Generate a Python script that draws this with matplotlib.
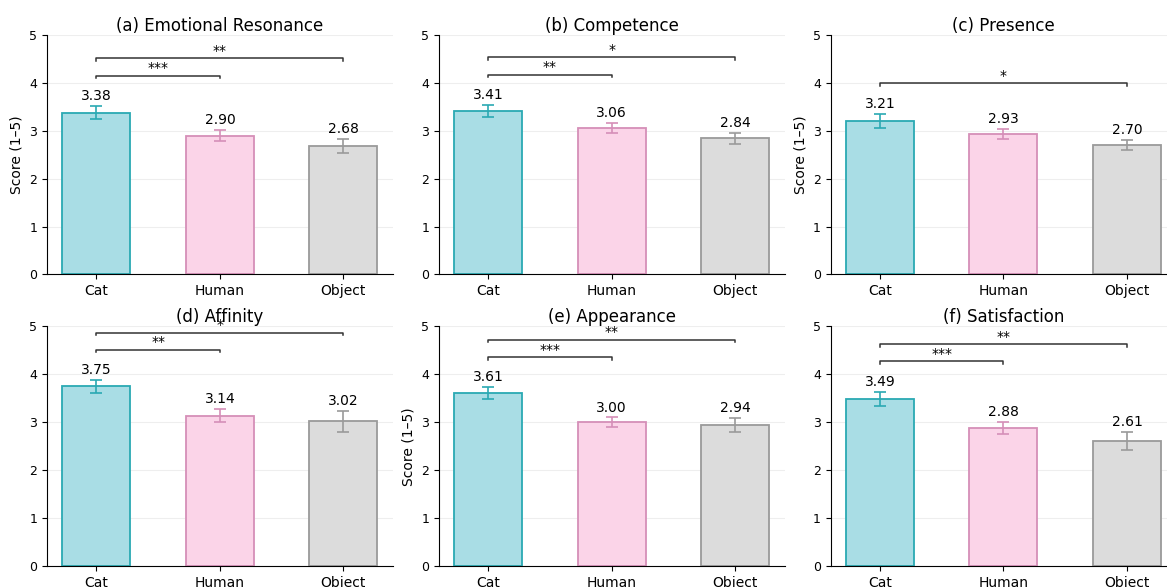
import matplotlib.pyplot as plt
import numpy as np

# Data
groups = ["Cat", "Human", "Object"]
titles = ["(a) Emotional Resonance", "(b) Competence", "(c) Presence",
          "(d) Affinity", "(e) Appearance", "(f) Satisfaction"]
means = [
    [3.38, 2.90, 2.68],
    [3.41, 3.06, 2.84],
    [3.21, 2.93, 2.70],
    [3.75, 3.14, 3.02],
    [3.61, 3.00, 2.94],
    [3.49, 2.88, 2.61],
]
errors = [
    [0.14, 0.12, 0.15],
    [0.13, 0.10, 0.12],
    [0.15, 0.10, 0.10],
    [0.13, 0.13, 0.22],
    [0.12, 0.10, 0.15],
    [0.15, 0.12, 0.19],
]
# significance: (i, j, label)
sig = [
    [(0, 1, "***"), (0, 2, "**")],
    [(0, 1, "**"), (0, 2, "*")],
    [(0, 2, "*")],
    [(0, 1, "**"), (0, 2, "*")],
    [(0, 1, "***"), (0, 2, "**")],
    [(0, 1, "***"), (0, 2, "**")],
]
show_ylabel = [True, False, True, False, True, False]

# Colors
FILL = ["#a9dde5", "#fbd4e8", "#dcdcdc"]
EDGE = ["#2aa9b3", "#d58fb8", "#9a9a9a"]

fig, axes = plt.subplots(2, 3, figsize=(11.67, 5.87), dpi=100)
fig.subplots_adjust(left=0.0403, right=1.008, top=0.9404, bottom=0.0358,
                    wspace=0.133, hspace=0.217)

x = np.arange(len(groups))
for k, ax in enumerate(axes.flat):
    m = means[k]
    e = errors[k]
    ax.bar(x, m, width=0.55, color=FILL, edgecolor=EDGE, linewidth=1.3, zorder=2)
    for i in range(3):
        ax.errorbar(x[i], m[i], yerr=e[i], fmt="none", ecolor=EDGE[i],
                    elinewidth=1.2, capsize=4, capthick=1.2, zorder=3)
        ax.text(x[i], m[i] + e[i] + 0.06, f"{m[i]:.2f}", ha="center",
                va="bottom", fontsize=10)

    # significance brackets
    base = max(a + b for a, b in zip(m, e)) + 0.63
    for n, (i, j, lab) in enumerate(sig[k]):
        y = base + 0.36 * n if len(sig[k]) > 1 else base
        ax.plot([x[i], x[i], x[j], x[j]], [y - 0.05, y, y, y - 0.05],
                color="#333333", linewidth=1.1, zorder=3)
        ax.text((x[i] + x[j]) / 2, y + 0.01, lab, ha="center", va="bottom",
                fontsize=10)

    ax.set_ylim(0, 5)
    ax.set_xlim(-0.4, 2.4)
    ax.set_xticks(x)
    ax.set_xticklabels(groups, fontsize=10)
    ax.set_yticks(range(6))
    ax.tick_params(axis="y", labelsize=9)
    ax.set_title(titles[k], fontsize=12, pad=3)
    if show_ylabel[k]:
        ax.set_ylabel("Score (1–5)", fontsize=10)
    ax.yaxis.grid(True, color="#eeeeee", linewidth=0.8, zorder=0)
    ax.set_axisbelow(True)
    ax.spines["top"].set_visible(False)
    ax.spines["right"].set_visible(False)

fig.savefig("out.png", dpi=100)
